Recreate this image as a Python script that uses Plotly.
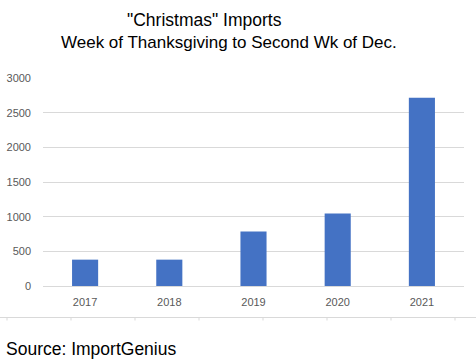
import plotly.graph_objects as go

years = ["2017", "2018", "2019", "2020", "2021"]
imports = [380, 380, 785, 1045, 2715]
y_ticks = [0, 500, 1000, 1500, 2000, 2500, 3000]
title_line1 = '"Christmas" Imports'
title_line2 = "Week of Thanksgiving to Second Wk of Dec."
source_text = "Source: ImportGenius"

W, H = 476, 364
L, R, T, B = 43, 12, 78, 78
pw = W - L - R
ph = H - T - B

def px(x):
    return (x - L) / pw

def py(y):
    return (H - B - y) / ph

fig = go.Figure()
fig.add_trace(go.Bar(x=years, y=imports, marker=dict(color="#4472C4", line=dict(width=0)), width=0.31))

font_main = "Liberation Sans, Arial, sans-serif"

annotations = [
    dict(text=title_line1, x=px(204), y=py(20), xref="paper", yref="paper", showarrow=False,
         xanchor="center", yanchor="middle", font=dict(family=font_main, size=17.5, color="#000000")),
    dict(text=title_line2, x=px(228.5), y=py(43), xref="paper", yref="paper", showarrow=False,
         xanchor="center", yanchor="middle", font=dict(family=font_main, size=17, color="#000000")),
    dict(text=source_text, x=px(4), y=py(349), xref="paper", yref="paper", showarrow=False,
         xanchor="left", yanchor="middle", font=dict(family=font_main, size=17.5, color="#000000")),
]

shapes = [dict(type="line", xref="paper", yref="paper", x0=px(0), x1=px(476), y0=py(317.5), y1=py(317.5),
               line=dict(color="#d9d9d9", width=1))]
for tx in [7, 71, 135, 199, 263, 327, 391, 455]:
    shapes.append(dict(type="line", xref="paper", yref="paper", x0=px(tx), x1=px(tx), y0=py(317.5), y1=py(320.5),
                       line=dict(color="#d9d9d9", width=1)))

fig.update_layout(
    width=W, height=H,
    margin=dict(l=L, r=R, t=T, b=B, pad=0, autoexpand=False),
    plot_bgcolor="white", paper_bgcolor="white",
    showlegend=False,
    bargap=0.69,
    annotations=annotations,
    shapes=shapes,
    xaxis=dict(type="category", showgrid=False, showline=True, linecolor="#d9d9d9", linewidth=1,
               automargin=False,
               ticks="", tickfont=dict(family=font_main, size=11, color="#595959"), ticklabelstandoff=6),
    yaxis=dict(range=[0, 3000], tickvals=y_ticks, showgrid=True, gridcolor="#d9d9d9", gridwidth=1,
               automargin=False,
               zeroline=False, showline=False, ticks="",
               tickfont=dict(family=font_main, size=11, color="#595959"), ticklabelstandoff=11),
)

fig.write_html("out.html", config={"displayModeBar": False},
               post_script="document.body.style.margin='0';document.body.style.padding='0';")
